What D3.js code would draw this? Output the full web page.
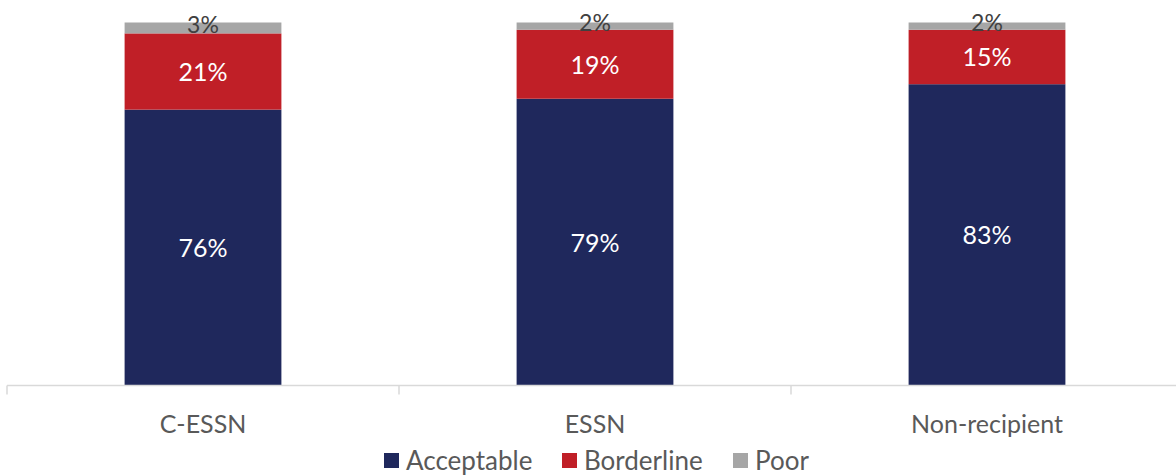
<!DOCTYPE html>
<html>
<head>
<meta charset="utf-8">
<script src="https://cdn.jsdelivr.net/npm/d3@7"></script>
<style>
  html, body { margin: 0; padding: 0; background: #fff; }
  svg { display: block; font-family: Lato, "Open Sans", sans-serif; }
</style>
</head>
<body>
<svg id="chart" width="1176" height="475"></svg>
<script>
// Food consumption score groups by assistance status (percent of households)
const categories = ["C-ESSN", "ESSN", "Non-recipient"];
const seriesNames = ["Acceptable", "Borderline", "Poor"];
const acceptable = [76, 79, 83];
const borderline = [21, 19, 15];
const poor = [3, 2, 2];
const colors = ["#1F285C", "#C01F27", "#A6A6A6"];

const W = 1176, H = 475;
const baseY = 385.5, topY = 22.5;

const svg = d3.select("#chart");

const x = d3.scaleBand()
  .domain(categories)
  .range([7, 1183])
  .paddingInner(0.6)
  .paddingOuter(0.3);

const y = d3.scaleLinear().domain([0, 100]).range([baseY, topY]);

const rows = categories.map((c, i) => ({
  category: c,
  Acceptable: acceptable[i],
  Borderline: borderline[i],
  Poor: poor[i]
}));

const stacked = d3.stack().keys(seriesNames)(rows);

// Stacked bars
const layers = svg.append("g").selectAll("g")
  .data(stacked)
  .join("g")
  .attr("fill", (d, i) => colors[i]);

layers.selectAll("rect")
  .data(d => d)
  .join("rect")
  .attr("x", d => x(d.data.category))
  .attr("width", x.bandwidth())
  .attr("y", d => y(d[1]))
  .attr("height", d => y(d[0]) - y(d[1]));

// Value labels
stacked.forEach((layer, li) => {
  const isPoor = seriesNames[li] === "Poor";
  svg.append("g").selectAll("text")
    .data(layer)
    .join("text")
    .attr("x", d => x(d.data.category) + x.bandwidth() / 2)
    .attr("y", d => (y(d[0]) + y(d[1])) / 2 + (isPoor ? 5 : 9.5))
    .attr("text-anchor", "middle")
    .attr("font-size", isPoor ? 23 : 25)
    .attr("fill", isPoor ? "#404040" : "#FFFFFF")
    .text(d => (d[1] - d[0]) + "%");
});

// Category axis
const axis = svg.append("g").attr("transform", `translate(0,${baseY})`);
axis.append("line")
  .attr("x1", 7).attr("x2", W)
  .attr("stroke", "#D9D9D9").attr("stroke-width", 1.5);

const step = x.step();
const boundaries = d3.range(categories.length + 1).map(i => 7 + i * step);
axis.selectAll("line.tick")
  .data(boundaries)
  .join("line")
  .attr("class", "tick")
  .attr("x1", d => d).attr("x2", d => d)
  .attr("y1", 0).attr("y2", 9)
  .attr("stroke", "#D9D9D9").attr("stroke-width", 1.5);

axis.selectAll("text")
  .data(categories)
  .join("text")
  .attr("x", d => x(d) + x.bandwidth() / 2)
  .attr("y", 47.5)
  .attr("text-anchor", "middle")
  .attr("font-size", 25)
  .attr("fill", "#595959")
  .text(d => d);

// Legend
const legendX = [384, 562, 733];
const legend = svg.append("g").attr("transform", "translate(0,453)");
const items = legend.selectAll("g")
  .data(seriesNames)
  .join("g")
  .attr("transform", (d, i) => `translate(${legendX[i]},0)`);
items.append("rect")
  .attr("width", 15).attr("height", 15)
  .attr("fill", (d, i) => colors[i]);
items.append("text")
  .attr("x", 22).attr("y", 16.5)
  .attr("font-size", 26)
  .attr("fill", "#595959")
  .text(d => d);
</script>
</body>
</html>
